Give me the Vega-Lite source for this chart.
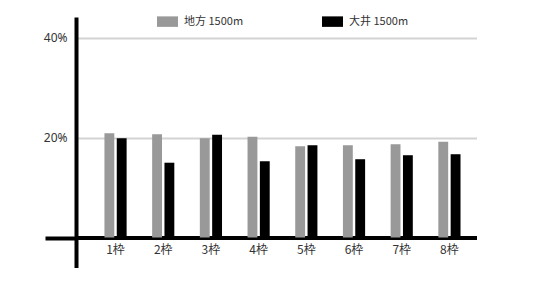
{
  "$schema": "https://vega.github.io/schema/vega-lite/v6.json",
  "autosize": "none",
  "padding": {"left": 76, "top": 17, "right": 0, "bottom": 0},
  "width": 401,
  "height": 251,
  "background": "white",
  "config": {
    "view": {"stroke": null},
    "font": "Noto Sans CJK JP"
  },
  "data": {
    "values": [
      {"waku": "1枠", "series": "地方 1500m", "pct": 20.9},
      {"waku": "1枠", "series": "大井 1500m", "pct": 19.9},
      {"waku": "2枠", "series": "地方 1500m", "pct": 20.7},
      {"waku": "2枠", "series": "大井 1500m", "pct": 15.0},
      {"waku": "3枠", "series": "地方 1500m", "pct": 19.9},
      {"waku": "3枠", "series": "大井 1500m", "pct": 20.6},
      {"waku": "4枠", "series": "地方 1500m", "pct": 20.2},
      {"waku": "4枠", "series": "大井 1500m", "pct": 15.3},
      {"waku": "5枠", "series": "地方 1500m", "pct": 18.3},
      {"waku": "5枠", "series": "大井 1500m", "pct": 18.5},
      {"waku": "6枠", "series": "地方 1500m", "pct": 18.5},
      {"waku": "6枠", "series": "大井 1500m", "pct": 15.7},
      {"waku": "7枠", "series": "地方 1500m", "pct": 18.7},
      {"waku": "7枠", "series": "大井 1500m", "pct": 16.5},
      {"waku": "8枠", "series": "地方 1500m", "pct": 19.2},
      {"waku": "8枠", "series": "大井 1500m", "pct": 16.7}
    ]
  },
  "mark": {"type": "bar"},
  "encoding": {
    "x": {
      "field": "waku",
      "type": "nominal",
      "sort": null,
      "title": null,
      "scale": {"paddingInner": 0.535, "paddingOuter": 0.471, "align": 0.633},
      "axis": {
        "orient": "bottom",
        "offset": -30.5,
        "domainColor": "#000000",
        "domainWidth": 4,
        "ticks": false,
        "labelAngle": 0,
        "labelPadding": 7,
        "labelFontSize": 12,
        "labelColor": "#333333",
        "labelFont": "Noto Sans CJK JP"
      }
    },
    "xOffset": {
      "field": "series",
      "type": "nominal",
      "sort": ["地方 1500m", "大井 1500m"],
      "scale": {"paddingInner": 0.2}
    },
    "y": {
      "field": "pct",
      "type": "quantitative",
      "title": null,
      "scale": {"domain": [-6.1, 44.2], "nice": false, "zero": false},
      "axis": {
        "values": [0, 20, 40],
        "labelExpr": "datum.value === 0 ? '' : datum.value + '%'",
        "domainColor": "#000000",
        "domainWidth": 4,
        "tickSize": 31,
        "tickWidth": 4,
        "tickColor": {"condition": {"test": "datum.value === 0", "value": "#000000"}, "value": "transparent"},
        "labelPadding": -22,
        "labelFontSize": 12,
        "labelColor": "#333333",
        "labelFont": "Noto Sans",
        "grid": true,
        "gridColor": "#d3d3d3",
        "gridWidth": 2
      }
    },
    "color": {
      "field": "series",
      "type": "nominal",
      "scale": {"domain": ["地方 1500m", "大井 1500m"], "range": ["#999999", "#000000"]},
      "legend": {
        "title": null,
        "orient": "none",
        "direction": "horizontal",
        "legendX": 81,
        "legendY": -6,
        "symbolType": "M-1,-0.5H1V0.5H-1Z",
        "symbolSize": 441,
        "symbolStrokeWidth": 0,
        "labelFontSize": 11,
        "labelColor": "#333333",
        "labelFont": "Noto Sans CJK JP",
        "labelOffset": 6,
        "columnPadding": 78
      }
    }
  }
}
